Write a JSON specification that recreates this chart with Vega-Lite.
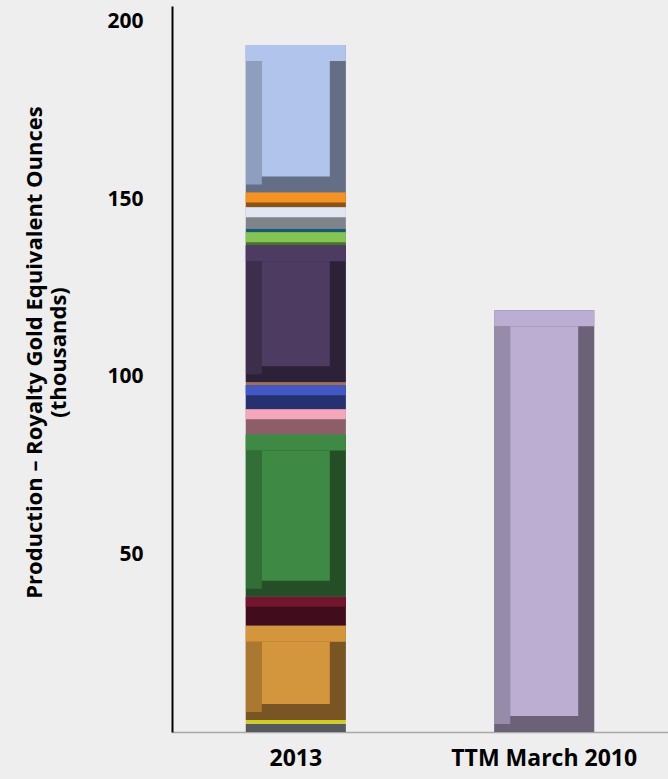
{
  "$schema": "https://vega.github.io/schema/vega-lite/v6.json",
  "autosize": {"type": "none"},
  "padding": {"left": 172, "top": 6, "right": 0, "bottom": 47},
  "width": 496,
  "height": 726,
  "background": "#eeeeee",
  "config": {"view": {"stroke": null}, "font": "Open Sans"},
  "data": {
    "values": [
      {"period": "2013", "segment": "s01", "order": 1, "value": 2.3},
      {"period": "2013", "segment": "s02", "order": 2, "value": 1.1},
      {"period": "2013", "segment": "s03", "order": 3, "value": 26.5},
      {"period": "2013", "segment": "s04", "order": 4, "value": 8.2},
      {"period": "2013", "segment": "s05", "order": 5, "value": 45.7},
      {"period": "2013", "segment": "s06", "order": 6, "value": 7.1},
      {"period": "2013", "segment": "s07", "order": 7, "value": 6.8},
      {"period": "2013", "segment": "s08", "order": 8, "value": 0.8},
      {"period": "2013", "segment": "s09", "order": 9, "value": 38.6},
      {"period": "2013", "segment": "s10", "order": 10, "value": 3.7},
      {"period": "2013", "segment": "s11", "order": 11, "value": 1.1},
      {"period": "2013", "segment": "s12", "order": 12, "value": 5.9},
      {"period": "2013", "segment": "s13", "order": 13, "value": 4.2},
      {"period": "2013", "segment": "s14", "order": 14, "value": 41.5},
      {"period": "TTM March 2010", "segment": "ttm", "order": 1, "value": 118.8}
    ]
  },
  "transform": [
    {"stack": "value", "groupby": ["period"], "sort": [{"field": "order", "order": "ascending"}], "as": ["y0", "y1"]}
  ],
  "encoding": {
    "x": {
      "field": "period",
      "type": "nominal",
      "sort": null,
      "scale": {"paddingInner": 0.597, "paddingOuter": 0.297},
      "axis": {
        "title": null,
        "labelAngle": 0,
        "labelFont": "Open Sans",
        "labelFontWeight": "bold",
        "labelFontSize": 23,
        "labelColor": "#000000",
        "labelPadding": 15,
        "labelLimit": 400,
        "ticks": false,
        "domainColor": "#a8a8a8",
        "domainWidth": 1.5
      }
    },
    "y": {
      "field": "y1",
      "type": "quantitative",
      "scale": {"domain": [0, 204.5], "nice": false},
      "axis": {
        "values": [50, 100, 150, 200],
        "grid": false,
        "ticks": false,
        "domainColor": "#000000",
        "domainWidth": 2,
        "labelFont": "Open Sans",
        "labelFontWeight": "bold",
        "labelFontSize": 21,
        "labelColor": "#000000",
        "labelPadding": 29,
        "title": ["Production – Royalty Gold Equivalent Ounces", "(thousands)"],
        "titleFont": "Open Sans",
        "titleFontWeight": "bold",
        "titleFontSize": 22,
        "titleColor": "#000000",
        "titleAngle": -90,
        "titleX": -148,
        "titleY": 346,
        "titleAlign": "center",
        "titleBaseline": "top",
        "titleLineHeight": 24
      }
    },
    "y2": {"field": "y0"},
    "color": {
      "field": "segment",
      "type": "nominal",
      "legend": null,
      "scale": {
        "domain": ["s01", "s02", "s03", "s04", "s05", "s06", "s07", "s08", "s09", "s10", "s11", "s12", "s13", "s14", "ttm"],
        "range": ["#55585c", "#d0cc22", "#d4963c", "#721630", "#3e8a44", "#f4a6ba", "#4458c4", "#a07050", "#4e3b62", "#84c454", "#1a5a70", "#e2e6f2", "#f49224", "#b0c4ec", "#bcadd3"]
      }
    }
  },
  "layer": [
    {
      "mark": {"type": "bar"}
    },
    {
      "transform": [{"filter": "datum.value > 3"}],
      "mark": {"type": "bar", "color": "#000000", "opacity": 0.43},
      "encoding": {"color": {"value": "#000000"}}
    },
    {
      "transform": [{"filter": "datum.value > 9"}],
      "mark": {"type": "bar", "y2Offset": 16},
      "encoding": {"y2": {"field": "y1"}}
    },
    {
      "transform": [{"filter": "datum.value > 3 && datum.value <= 9"}],
      "mark": {"type": "bar", "y2Offset": 10},
      "encoding": {"y2": {"field": "y1"}}
    },
    {
      "transform": [{"filter": "datum.value > 9"}],
      "mark": {"type": "bar", "size": 16, "xOffset": -42, "yOffset": 16, "y2Offset": -8, "opacity": 0.55}
    },
    {
      "transform": [{"filter": "datum.value > 9"}],
      "mark": {"type": "bar", "size": 68, "yOffset": 16, "y2Offset": -16}
    }
  ]
}
